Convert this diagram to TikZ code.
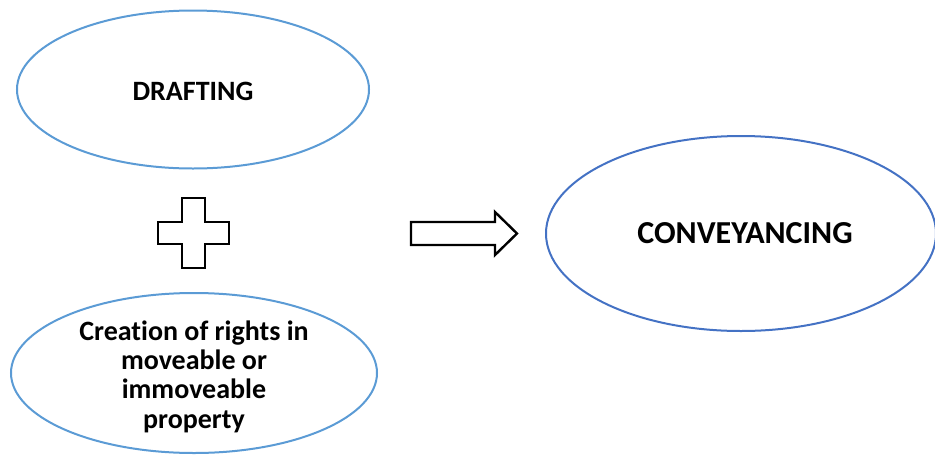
\documentclass[tikz,border=0pt]{standalone}
\usepackage{fontspec}
\setmainfont[Ligatures=NoCommon]{Carlito}
\usetikzlibrary{shapes.geometric}
\definecolor{lightblue}{HTML}{5B9BD5}
\definecolor{darkblue}{HTML}{4472C4}
\begin{document}
\begin{tikzpicture}[x=1pt,y=-1pt,
  bubble/.style={ellipse, draw=lightblue, line width=2pt, inner sep=0pt},
  label/.style={inner sep=0pt, align=center, text=black},
  outlineshape/.style={draw=black, line width=2.4pt, line join=miter, fill=white}]
\useasboundingbox (0,0) rectangle (935,456);

% the two ingredients
\node[bubble, minimum width=352pt, minimum height=158pt] (drafting) at (193,89.5) {};
\node[label, font=\fontsize{28}{30}\selectfont\bfseries] (draftingtext) at (193,91) {DRAFTING};
\node[bubble, minimum width=366pt, minimum height=160pt] (creation) at (194,373) {};
\node[label, font=\fontsize{28}{29.3}\selectfont\bfseries, anchor=base] (creationtext) at (194,428)
  {Creation of rights in\\moveable or\\immoveable\\property};

% the result
\node[bubble, draw=darkblue, minimum width=390pt, minimum height=195pt] (conveyancing) at (741,233.5) {};
\node[label, font=\fontsize{32}{34}\selectfont\bfseries] (conveyancingtext) at (745,233) {CONVEYANCING};

% plus sign between the ingredients
\draw[outlineshape] (182,198) -- (205,198) -- (205,222) -- (229,222) -- (229,244)
  -- (205,244) -- (205,268) -- (182,268) -- (182,244) -- (158,244) -- (158,222)
  -- (182,222) -- cycle;

% block arrow towards the result
\draw[outlineshape] (411,222) -- (495,222) -- (495,212) -- (517,233.5) -- (495,255)
  -- (495,245) -- (411,245) -- cycle;
\end{tikzpicture}
\end{document}
